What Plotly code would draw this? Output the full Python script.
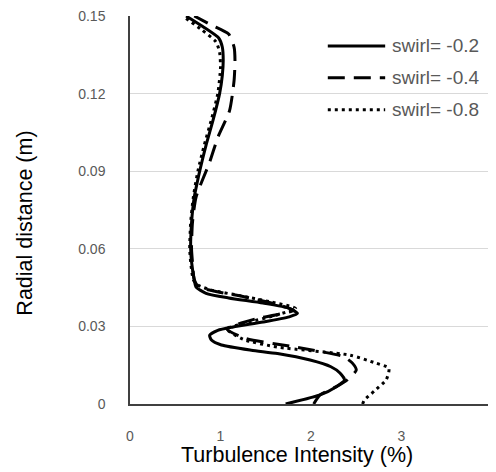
import plotly.graph_objects as go

# Radial distance (m)
y_s02 = [0, 0.0035, 0.0067, 0.0093, 0.012, 0.0144, 0.017, 0.0195, 0.0208, 0.0228, 0.0247, 0.0266,
         0.0285, 0.0298, 0.0317, 0.0337, 0.035, 0.037, 0.039, 0.041, 0.0428, 0.0452, 0.048, 0.055,
         0.06, 0.07, 0.08, 0.086, 0.09, 0.10, 0.11, 0.12, 0.127, 0.133, 0.138, 0.1415, 0.146, 0.15]
x_s02 = [1.72, 2.10, 2.28, 2.37, 2.32, 2.22, 1.99, 1.63, 1.34, 1.01, 0.90, 0.88,
         0.97, 1.14, 1.47, 1.76, 1.85, 1.76, 1.47, 1.09, 0.84, 0.73, 0.71, 0.68,
         0.67, 0.68, 0.71, 0.745, 0.77, 0.84, 0.92, 0.99, 1.02, 1.03, 1.02, 0.98, 0.80, 0.62]

y_s04 = [0, 0.0035, 0.0067, 0.0093, 0.0131, 0.0157, 0.0183, 0.0221, 0.0254, 0.029, 0.031, 0.033,
         0.0345, 0.0362, 0.0385, 0.0414, 0.0435, 0.0452, 0.048, 0.055, 0.06, 0.07, 0.08, 0.0935,
         0.103, 0.1134, 0.125, 0.1327, 0.138, 0.143, 0.1465, 0.15]
x_s04 = [2.03, 2.10, 2.28, 2.40, 2.50, 2.46, 2.36, 1.81, 1.27, 1.07, 1.20, 1.40,
         1.62, 1.81, 1.62, 1.27, 0.95, 0.76, 0.71, 0.69, 0.68, 0.69, 0.73, 0.88,
         0.97, 1.10, 1.15, 1.16, 1.15, 1.09, 0.90, 0.71]

y_s08 = [0, 0.0015, 0.005, 0.0093, 0.0125, 0.0139, 0.016, 0.0189, 0.022, 0.025, 0.029, 0.0315,
         0.0345, 0.037, 0.0395, 0.042, 0.044, 0.046, 0.048, 0.055, 0.06, 0.07, 0.08, 0.09,
         0.10, 0.11, 0.12, 0.13, 0.136, 0.140, 0.145, 0.149]
x_s08 = [2.57, 2.59, 2.70, 2.83, 2.86, 2.86, 2.70, 2.43, 1.63, 1.25, 1.07, 1.30,
         1.63, 1.83, 1.55, 1.20, 0.90, 0.75, 0.70, 0.67, 0.66, 0.67, 0.70, 0.75,
         0.82, 0.90, 0.97, 1.00, 0.99, 0.95, 0.78, 0.62]

series_names = ["swirl= -0.2", "swirl= -0.4", "swirl= -0.8"]
x_ticks = [0, 1, 2, 3, 4]
y_ticks = [0, 0.03, 0.06, 0.09, 0.12, 0.15]
y_tick_text = ["0", "0.03", "0.06", "0.09", "0.12", "0.15"]

FONT = "Liberation Sans, Arial, sans-serif"
dashes = ["solid", "17px,9px", "3px,4px"]
xs = [x_s02, x_s04, x_s08]
ys = [y_s02, y_s04, y_s08]

fig = go.Figure()
for name, xv, yv, dash in zip(series_names, xs, ys, dashes):
    fig.add_trace(go.Scatter(x=xv, y=yv, mode="lines", name=name,
                             line=dict(color="black", width=3, dash=dash,
                                       shape="spline", smoothing=0.6)))

tick_font = dict(family=FONT, size=14, color="#595959")

fig.update_layout(
    width=488, height=464,
    margin=dict(l=122, r=0, t=7, b=68),
    paper_bgcolor="white", plot_bgcolor="white",
    showlegend=False,
    font=dict(family=FONT),
)
fig.update_xaxes(range=[0, 4], tickvals=x_ticks, showgrid=False, zeroline=False,
                 showline=True, linecolor="#404040", linewidth=1.5,
                 tickfont=tick_font, ticks="", ticklabelstandoff=18,
                 ticklabeloverflow="allow")
fig.update_yaxes(range=[0, 0.15], tickvals=y_ticks, ticktext=y_tick_text,
                 showgrid=True, gridcolor="#d9d9d9", gridwidth=1, zeroline=False,
                 showline=True, linecolor="#404040", linewidth=1.5,
                 tickfont=tick_font, ticks="", ticklabelstandoff=20,
                 ticklabeloverflow="allow")

# legend drawn as line samples + labels
legend_rows = [0.9229, 0.8406, 0.7584]
for name, dash, ly in zip(series_names, dashes, legend_rows):
    fig.add_shape(type="line", xref="paper", yref="paper", x0=0.5464, x1=0.7049, y0=ly, y1=ly,
                  line=dict(color="black", width=3, dash=dash))
    fig.add_annotation(text=name, xref="paper", yref="paper", x=0.7186, y=ly,
                       xanchor="left", yanchor="middle", showarrow=False,
                       font=dict(family=FONT, size=19, color="#595959"))

fig.add_annotation(text="Turbulence Intensity (%)", xref="paper", yref="paper",
                   x=0.4617, y=-0.131, xanchor="center", yanchor="middle", showarrow=False,
                   font=dict(family=FONT, size=21.5, color="black"))
fig.add_annotation(text="Radial distance (m)", xref="paper", yref="paper",
                   x=-0.2896, y=0.4653, xanchor="center", yanchor="middle", showarrow=False,
                   textangle=-90,
                   font=dict(family=FONT, size=21.5, color="black"))

fig.write_html("out.html")
